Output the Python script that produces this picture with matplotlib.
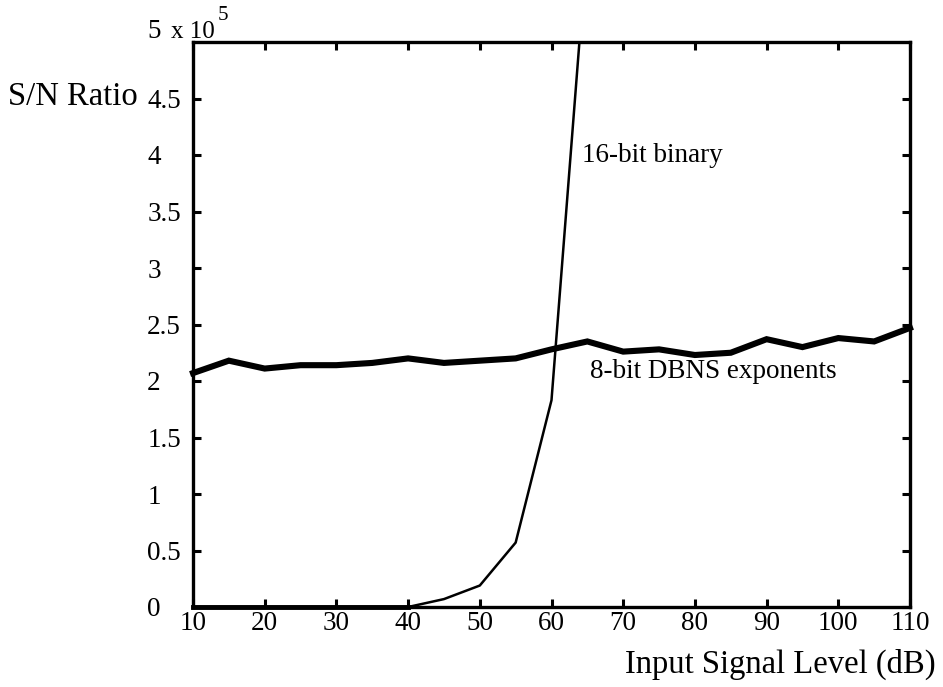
import matplotlib
matplotlib.use("Agg")
import matplotlib.pyplot as plt

# S/N ratio vs input level, values in units of 1e5
input_db = [10, 15, 20, 25, 30, 35, 40, 45, 50, 55, 60, 65, 70, 75, 80, 85, 90, 95, 100, 105, 110]
dbns_8bit = [2.07, 2.18, 2.11, 2.14, 2.14, 2.16, 2.20, 2.16, 2.18, 2.20, 2.28, 2.35, 2.26,
             2.28, 2.23, 2.25, 2.37, 2.30, 2.38, 2.35, 2.47]
binary_db = [10, 15, 20, 25, 30, 35, 40, 45, 50, 55, 60, 65]
binary_16bit = [0.0, 0.0, 0.0, 0.0, 0.0, 0.0, 0.0, 0.07, 0.19, 0.57, 1.83, 5.9]

x_ticks = [10, 20, 30, 40, 50, 60, 70, 80, 90, 100, 110]
y_ticks = [0, 0.5, 1, 1.5, 2, 2.5, 3, 3.5, 4, 4.5]
y_labels = ["0", "0.5", "1", "1.5", "2", "2.5", "3", "3.5", "4", "4.5"]

plt.rcParams['font.family'] = ['Liberation Serif', 'DejaVu Serif']

fig = plt.figure(figsize=(9.43, 6.87), dpi=100)
ax = fig.add_axes([193 / 943, 1 - 607 / 687, (910 - 193) / 943, (607 - 42) / 687])

ax.plot(input_db, dbns_8bit, color='black', linewidth=4.4, solid_joinstyle='miter', clip_on=False)
ax.plot(binary_db, binary_16bit, color='black', linewidth=1.8, clip_on=True)
# zero segment sits on the axis, let it show over the spine
ax.plot(binary_db[:7], binary_16bit[:7], color='black', linewidth=3.5, clip_on=False)

ax.set_xlim(10, 110)
ax.set_ylim(0, 5)

ax.set_xticks(x_ticks)
ax.set_xticklabels([str(v) for v in x_ticks], fontsize=19.5)
ax.set_yticks(y_ticks)
ax.set_yticklabels(y_labels, fontsize=19.5, ha='left', va='center_baseline')

ax.tick_params(axis='both', direction='in', length=6, width=2.2, top=True, right=True)
ax.tick_params(axis='x', pad=3)
ax.tick_params(axis='y', pad=33)

for spine in ax.spines.values():
    spine.set_linewidth(2.4)

# exponent label at the top of the y axis
fig.text(147 / 943, 1 - 32 / 687, "5", fontsize=19.5, ha='left', va='center')
fig.text(171 / 943, 1 - 32 / 687, "x 10", fontsize=18, ha='left', va='center')
fig.text(218 / 943, 1 - 15 / 687, "5", fontsize=15, ha='left', va='center')

fig.text(8 / 943, 1 - 97 / 687, "S/N Ratio", fontsize=23.5, ha='left', va='center')
fig.text(936 / 943, 1 - 664 / 687, "Input Signal Level (dB)", fontsize=23.5, ha='right', va='center')

ax.text(64.3, 4.0, "16-bit binary", fontsize=19.5, ha='left', va='center')
ax.text(65.4, 2.08, "8-bit DBNS exponents", fontsize=19.5, ha='left', va='center')

fig.savefig("out.png", dpi=100)
